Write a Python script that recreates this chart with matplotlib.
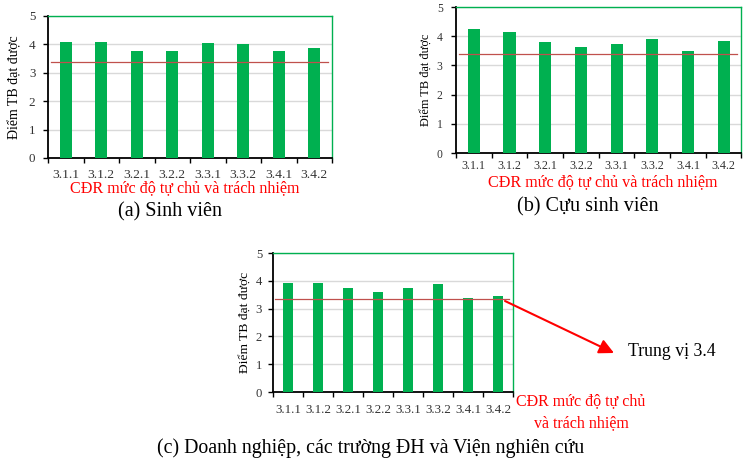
import matplotlib.pyplot as plt

plt.rcParams['font.family'] = ['Liberation Serif', 'DejaVu Serif']

categories = ['3.1.1', '3.1.2', '3.2.1', '3.2.2', '3.3.1', '3.3.2', '3.4.1', '3.4.2']
sinh_vien = [4.10, 4.10, 3.77, 3.77, 4.05, 4.01, 3.77, 3.87]
cuu_sinh_vien = [4.23, 4.15, 3.79, 3.62, 3.73, 3.90, 3.51, 3.85]
doanh_nghiep = [3.91, 3.91, 3.74, 3.61, 3.74, 3.88, 3.39, 3.45]
medians = [3.38, 3.39, 3.35]

xlabel = 'CĐR mức độ tự chủ và trách nhiệm'
ylabel = 'Điểm TB đạt được'
captions = ['(a) Sinh viên', '(b) Cựu sinh viên',
            '(c) Doanh nghiệp, các trường ĐH và Viện nghiên cứu']

W, H = 743, 461
BAR = '#00B050'
RED = '#C0504D'


def box(l, r, t, b):
    return [l / W, 1 - b / H, (r - l) / W, (b - t) / H]


def px(x, y):
    return x / W, 1 - y / H


def draw_panel(ax, values, median, tick_size, ylab_size, xpad, ypad, ylab_pad):
    x = range(len(categories))
    ax.bar(x, values, width=0.34, color=BAR, zorder=3)
    ax.axhline(median, xmin=0.01, xmax=0.985, color=RED, lw=0.9, zorder=4)
    ax.set_xlim(-0.5, len(categories) - 0.5)
    ax.set_ylim(0, 5)
    ax.set_yticks(range(6))
    ax.yaxis.grid(True, color='#D9D9D9', lw=1, zorder=0)
    ax.set_xticks([i - 0.5 for i in range(len(categories) + 1)])
    ax.set_xticklabels([])
    ax.set_xticks(list(x), minor=True)
    ax.set_xticklabels(categories, minor=True, fontsize=tick_size, color='#333333')
    for lbl in ax.xaxis.get_minorticklabels():
        lbl.set_verticalalignment('baseline')
    ax.tick_params(axis='x', which='minor', length=0, pad=xpad)
    ax.tick_params(axis='x', which='major', length=3.5, width=1, direction='out')
    ax.tick_params(axis='y', length=3.3, width=1, labelsize=tick_size - 0.3, pad=ypad,
                   labelcolor='#333333')
    for s in ['top', 'right']:
        ax.spines[s].set_color(BAR)
        ax.spines[s].set_linewidth(1)
    for s in ['left', 'bottom']:
        ax.spines[s].set_color('black')
        ax.spines[s].set_linewidth(1.3)
    ax.set_ylabel(ylabel, fontsize=ylab_size, labelpad=ylab_pad)


fig = plt.figure(figsize=(W / 100, H / 100), dpi=100)

ax_a = fig.add_axes(box(48, 332, 16, 158))
draw_panel(ax_a, sinh_vien, medians[0], 9.7, 10, 14.4, 5.8, 5)
fig.text(*px(185, 192), xlabel, color='red', fontsize=11.6, ha='center', va='baseline')
fig.text(*px(170.5, 216.5), captions[0], fontsize=14.5, ha='center', va='baseline')

ax_b = fig.add_axes(box(456, 741.5, 7, 153))
draw_panel(ax_b, cuu_sinh_vien, medians[1], 8.7, 8.8, 11.5, 6.3, 4)
fig.text(*px(603, 186), xlabel, color='red', fontsize=11.6, ha='center', va='baseline')
fig.text(*px(588, 211.5), captions[1], fontsize=14.5, ha='center', va='baseline')

ax_c = fig.add_axes(box(273, 513, 253, 392))
draw_panel(ax_c, doanh_nghiep, medians[2], 9.4, 9.7, 15.1, 4.5, 4)
fig.text(*px(581, 405), 'CĐR mức độ tự chủ', color='red',
         fontsize=11.5, ha='center', va='baseline')
fig.text(*px(581, 426.7), 'và trách nhiệm', color='red',
         fontsize=11.5, ha='center', va='baseline')
fig.text(*px(371, 453), captions[2], fontsize=14.3, ha='center', va='baseline')

ax_c.annotate('', xy=px(614, 353), xycoords='figure fraction',
              xytext=px(505, 301), textcoords='figure fraction',
              arrowprops=dict(arrowstyle='-|>', color='red', lw=1.5,
                              mutation_scale=22, shrinkA=0, shrinkB=0))
fig.text(*px(628, 355.5), 'Trung vị 3.4', fontsize=12.8, ha='left', va='baseline')

fig.savefig('out.png', dpi=100)
